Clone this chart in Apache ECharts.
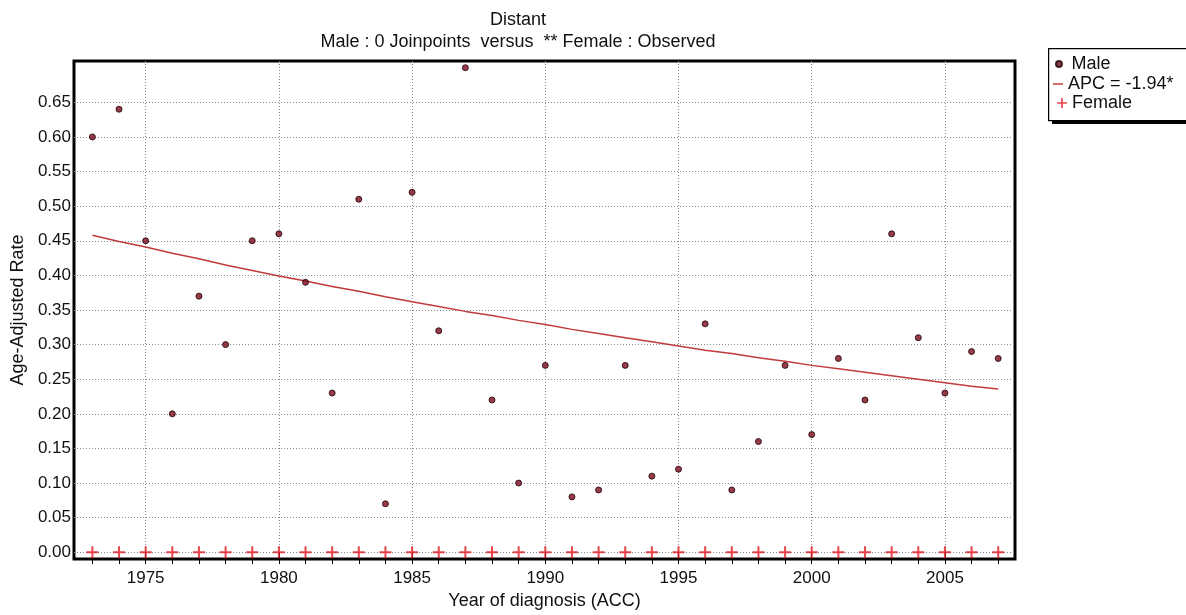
<!DOCTYPE html>
<html>
<head>
<meta charset="utf-8">
<script src="https://cdn.jsdelivr.net/npm/echarts@6/dist/echarts.min.js"></script>
<style>html,body{margin:0;padding:0;background:#fff;}#c{width:1186px;height:615px;}</style>
</head>
<body>
<div id="c"></div>
<script>
const years = [1973,1974,1975,1976,1977,1978,1979,1980,1981,1982,1983,1984,1985,1986,1987,1988,1989,1990,1991,1992,1993,1994,1995,1996,1997,1998,1999,2000,2001,2002,2003,2004,2005,2006,2007];
const maleObserved = [0.60,0.64,0.45,0.20,0.37,0.30,0.45,0.46,0.39,0.23,0.51,0.07,0.52,0.32,0.70,0.22,0.10,0.27,0.08,0.09,0.27,0.11,0.12,0.33,0.09,0.16,0.27,0.17,0.28,0.22,0.46,0.31,0.23,0.29,0.28];
const maleFitted = [0.458,0.449,0.441,0.432,0.424,0.415,0.407,0.399,0.392,0.384,0.377,0.369,0.362,0.355,0.348,0.342,0.335,0.329,0.322,0.316,0.310,0.304,0.298,0.292,0.287,0.281,0.276,0.270,0.265,0.260,0.255,0.250,0.245,0.240,0.236];
const femaleObserved = [0,0,0,0,0,0,0,0,0,0,0,0,0,0,0,0,0,0,0,0,0,0,0,0,0,0,0,0,0,0,0,0,0,0,0];
const yTicks = [0,0.05,0.10,0.15,0.20,0.25,0.30,0.35,0.40,0.45,0.50,0.55,0.60,0.65];
const xLabelYears = [1975,1980,1985,1990,1995,2000,2005];

const FONT = '"Liberation Sans", Arial, sans-serif';
const plusPath = 'path://M5,0 L7,0 L7,5 L12,5 L12,7 L7,7 L7,12 L5,12 L5,7 L0,7 L0,5 L5,5 Z';
const pair = a => years.map((y, i) => [y, a[i]]);

const chart = echarts.init(document.getElementById('c'), null, {renderer: 'canvas'});
chart.setOption({
  animation: false,
  backgroundColor: '#fff',
  textStyle: {fontFamily: FONT},
  title: {
    text: 'Distant',
    subtext: 'Male : 0 Joinpoints  versus  ** Female : Observed',
    left: 518, top: 11, textAlign: 'center', padding: 0, itemGap: 4,
    textStyle: {fontSize: 18, fontWeight: 'normal', color: '#111', fontFamily: FONT},
    subtextStyle: {fontSize: 18, color: '#111', fontFamily: FONT}
  },
  grid: {left: 74, top: 61, right: 171, bottom: 54, show: true, borderColor: '#000', borderWidth: 3, backgroundColor: 'transparent'},
  xAxis: [{
    type: 'value', min: 1972.31, max: 2007.63,
    name: 'Year of diagnosis (ACC)', nameLocation: 'middle', nameGap: 33,
    nameTextStyle: {fontSize: 18, color: '#111', fontFamily: FONT},
    axisLine: {show: false},
    axisTick: {show: true, customValues: xLabelYears, length: 6, lineStyle: {color: '#000'}},
    axisLabel: {customValues: xLabelYears, fontSize: 17, color: '#111', margin: 11, fontFamily: FONT, formatter: v => String(v)},
    splitLine: {show: true, lineStyle: {color: '#8a8a8a', type: [1, 2], width: 1}}
  }, {
    type: 'value', min: 1972.31, max: 2007.63, position: 'bottom',
    axisLine: {show: false},
    axisTick: {show: true, customValues: years, length: 5, lineStyle: {color: '#000'}},
    axisLabel: {show: false},
    splitLine: {show: false}
  }],
  yAxis: {
    type: 'value', min: -0.0097, max: 0.7097,
    name: 'Age-Adjusted Rate', nameLocation: 'middle', nameGap: 43,
    nameTextStyle: {fontSize: 18, color: '#111', fontFamily: FONT},
    axisLine: {show: false},
    axisTick: {show: false, customValues: yTicks},
    axisLabel: {customValues: yTicks, fontSize: 17, color: '#111', margin: 3, fontFamily: FONT, formatter: v => v.toFixed(2)},
    splitLine: {show: true, lineStyle: {color: '#8a8a8a', type: [1, 2], width: 1}}
  },
  graphic: [
    {type: 'rect', left: 1052, top: 52, shape: {width: 150, height: 72}, style: {fill: '#000'}, z: 5},
    {type: 'rect', left: 1048, top: 48, shape: {width: 150, height: 72}, style: {fill: '#fff', stroke: '#000', lineWidth: 1.2}, z: 6}
  ],
  legend: [
    {data: [{name: 'Male', icon: 'circle'}], left: 1055, top: 55, itemWidth: 15, itemHeight: 6, padding: 0, z: 10,
     textStyle: {fontSize: 18, color: '#111', fontFamily: FONT}},
    {data: [{name: 'APC = -1.94*', icon: 'rect'}], left: 1053, top: 75, itemWidth: 10, itemHeight: 1.5, padding: 0, z: 10,
     textStyle: {fontSize: 18, color: '#111', fontFamily: FONT}},
    {data: [{name: 'Female', icon: plusPath}], left: 1057, top: 94, itemWidth: 10, itemHeight: 10, padding: 0, z: 10,
     textStyle: {fontSize: 18, color: '#111', fontFamily: FONT}}
  ],
  series: [
    {name: 'APC = -1.94*', type: 'line', data: pair(maleFitted), showSymbol: false, symbol: 'none', smooth: false,
     lineStyle: {color: '#c23a3a', width: 1.5}, itemStyle: {color: '#c23a3a'}, z: 3},
    {name: 'Male', type: 'scatter', data: pair(maleObserved), symbol: 'circle', symbolSize: 6,
     itemStyle: {color: '#7e0a1e', borderColor: '#1a0000', borderWidth: 1}, z: 4},
    {name: 'Female', type: 'scatter', data: pair(femaleObserved), symbol: plusPath, symbolSize: 12,
     itemStyle: {color: '#e3161f'}, z: 4}
  ]
});
</script>
</body>
</html>
